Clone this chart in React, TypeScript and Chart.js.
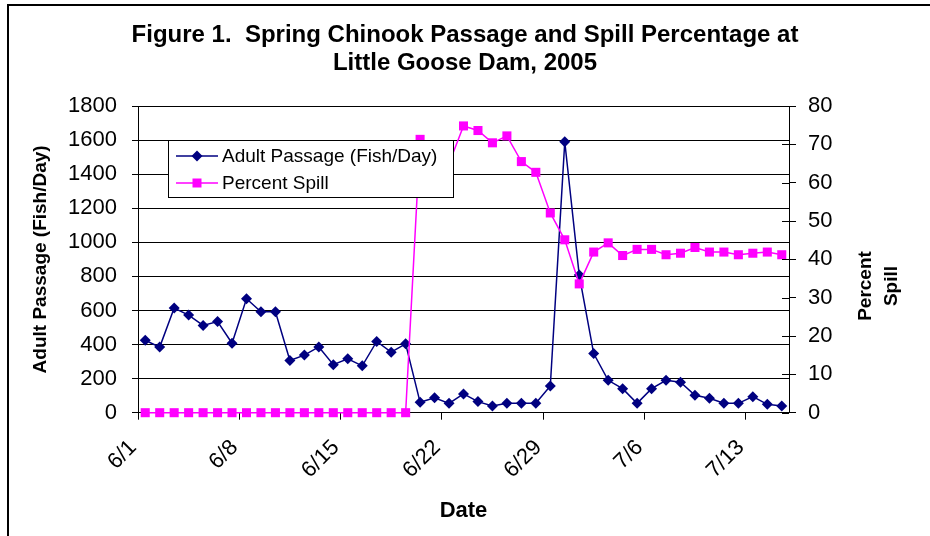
import React, { useEffect, useRef } from 'react';
import { Chart, registerables } from 'chart.js';

Chart.register(...registerables);

const dates = [
  '6/1', '6/2', '6/3', '6/4', '6/5', '6/6', '6/7', '6/8', '6/9', '6/10',
  '6/11', '6/12', '6/13', '6/14', '6/15', '6/16', '6/17', '6/18', '6/19', '6/20',
  '6/21', '6/22', '6/23', '6/24', '6/25', '6/26', '6/27', '6/28', '6/29', '6/30',
  '7/1', '7/2', '7/3', '7/4', '7/5', '7/6', '7/7', '7/8', '7/9', '7/10',
  '7/11', '7/12', '7/13', '7/14', '7/15',
];

const adultPassage = [
  425, 385, 614, 573, 512, 535, 408, 669, 592, 592,
  306, 338, 386, 282, 316, 275, 418, 355, 404, 61,
  88, 55, 110, 65, 39, 55, 55, 55, 157, 1590,
  808, 347, 190, 141, 55, 141, 190, 179, 102, 85,
  55, 55, 94, 49, 39,
];

const percentSpill = [
  0, 0, 0, 0, 0, 0, 0, 0, 0, 0,
  0, 0, 0, 0, 0, 0, 0, 0, 0, 71.3,
  67, 65, 74.8, 73.6, 70.4, 72.2, 65.5, 62.7, 52.1, 45.1,
  33.6, 41.9, 44.3, 41.0, 42.6, 42.6, 41.2, 41.6, 43.1, 41.9,
  41.9, 41.2, 41.6, 41.9, 41.2,
];

const titleLines = ['Figure 1.  Spring Chinook Passage and Spill Percentage at', 'Little Goose Dam, 2005'];
const seriesNames = ['Adult Passage (Fish/Day)', 'Percent Spill'];
const rightTitle = ['Percent', 'Spill'];

const FONT = "'Liberation Sans', Arial, Helvetica, sans-serif";
const NAVY = '#000080';
const MAGENTA = '#FF00FF';

function drawMarker(ctx: CanvasRenderingContext2D, kind: string, x: number, y: number, color: string) {
  ctx.fillStyle = color;
  ctx.beginPath();
  if (kind === 'diamond') {
    ctx.moveTo(x, y - 5.5);
    ctx.lineTo(x + 5.5, y);
    ctx.lineTo(x, y + 5.5);
    ctx.lineTo(x - 5.5, y);
    ctx.closePath();
  } else {
    ctx.rect(x - 4.5, y - 4.5, 9, 9);
  }
  ctx.fill();
}

export default function App() {
  const ref = useRef<HTMLCanvasElement>(null);

  useEffect(() => {
    const canvas = ref.current!;

    const extras = {
      id: 'extras',
      afterDatasetsDraw(chart: any) {
        const ctx: CanvasRenderingContext2D = chart.ctx;
        const bx = 168, by = 140, bw = 285, bh = 57;
        ctx.save();
        ctx.fillStyle = '#fff';
        ctx.fillRect(bx, by, bw, bh);
        ctx.strokeStyle = '#000';
        ctx.lineWidth = 1;
        ctx.strokeRect(bx + 0.5, by + 0.5, bw, bh);
        const entries = [
          { label: seriesNames[0], color: NAVY, kind: 'diamond' },
          { label: seriesNames[1], color: MAGENTA, kind: 'square' },
        ];
        entries.forEach((e, i) => {
          const y = by + 16 + i * 27;
          ctx.strokeStyle = e.color;
          ctx.lineWidth = 1.5;
          ctx.beginPath();
          ctx.moveTo(bx + 8, y);
          ctx.lineTo(bx + 50, y);
          ctx.stroke();
          drawMarker(ctx, e.kind, bx + 29, y, e.color);
          ctx.fillStyle = '#000';
          ctx.font = `19px ${FONT}`;
          ctx.textAlign = 'left';
          ctx.textBaseline = 'middle';
          ctx.fillText(e.label, bx + 54, y + 1);
        });
        ctx.restore();
      },
      afterDraw(chart: any) {
        const ctx: CanvasRenderingContext2D = chart.ctx;
        const y1 = chart.scales.y1;
        ctx.save();
        ctx.strokeStyle = '#000';
        ctx.lineWidth = 1;
        y1.ticks.forEach((t: any) => {
          const py = Math.round(y1.getPixelForValue(t.value)) + 0.5;
          ctx.beginPath();
          ctx.moveTo(y1.left - 7, py);
          ctx.lineTo(y1.left, py);
          ctx.stroke();
        });
        ctx.fillStyle = '#000';
        ctx.font = `bold 19px ${FONT}`;
        ctx.textAlign = 'center';
        ctx.textBaseline = 'middle';
        rightTitle.forEach((s, i) => {
          ctx.save();
          ctx.translate(866 + i * 26, 286);
          ctx.rotate(-Math.PI / 2);
          ctx.fillText(s, 0, 0);
          ctx.restore();
        });
        ctx.fillStyle = '#000';
        ctx.fillRect(7, 4, 2, 540);
        ctx.fillRect(7, 4, 930, 2);
        ctx.restore();
      },
    };

    const chart = new Chart(canvas, {
      type: 'line',
      data: {
        labels: dates,
        datasets: [
          {
            label: seriesNames[0],
            data: adultPassage,
            yAxisID: 'y',
            borderColor: NAVY,
            backgroundColor: NAVY,
            borderWidth: 1.5,
            pointStyle: 'rectRot',
            pointRadius: 5.5,
            pointBorderWidth: 0,
            pointBackgroundColor: NAVY,
            tension: 0,
            clip: false,
            order: 1,
          },
          {
            label: seriesNames[1],
            data: percentSpill,
            yAxisID: 'y1',
            borderColor: MAGENTA,
            backgroundColor: MAGENTA,
            borderWidth: 1.5,
            pointStyle: 'rect',
            pointRadius: 6.4,
            pointBorderWidth: 0,
            pointBackgroundColor: MAGENTA,
            tension: 0,
            clip: false,
            order: 0,
          },
        ],
      },
      options: {
        responsive: false,
        animation: false,
        events: [],
        layout: { padding: 0 },
        plugins: {
          legend: { display: false },
          tooltip: { enabled: false },
          title: {
            display: true,
            text: titleLines,
            color: '#000',
            font: { family: FONT, size: 24, weight: 'bold', lineHeight: '28px' },
            padding: { top: 21, bottom: 29 },
          },
        },
        scales: {
          x: {
            type: 'category',
            offset: true,
            grid: {
              offset: true,
              drawOnChartArea: false,
              drawTicks: true,
              tickLength: 7,
              lineWidth: 1,
              color: (c: any) => (c.index % 7 === 0 ? '#000' : 'rgba(0,0,0,0)'),
            },
            border: { display: true, color: '#000', width: 1 },
            ticks: {
              autoSkip: false,
              maxRotation: 45,
              minRotation: 45,
              padding: 15,
              labelOffset: -12,
              color: '#000',
              font: { family: FONT, size: 22 },
              callback: (_v: any, i: number) => (i % 7 === 0 ? dates[i] : ''),
            },
            title: {
              display: true,
              text: 'Date',
              color: '#000',
              font: { family: FONT, size: 22, weight: 'bold' },
              padding: { top: 0, bottom: 12 },
            },
            afterFit: (s: any) => { s.height = 123.3; },
          },
          y: {
            position: 'left',
            min: 0,
            max: 1800,
            ticks: {
              stepSize: 200,
              color: '#000',
              padding: 15,
              font: { family: FONT, size: 22 },
              callback: (v: any) => String(v),
            },
            grid: { color: '#000', lineWidth: 1, tickLength: 6 },
            border: { color: '#000', width: 1 },
            title: {
              display: true,
              text: 'Adult Passage (Fish/Day)',
              color: '#000',
              font: { family: FONT, size: 19, weight: 'bold' },
              padding: { top: 29, bottom: 0 },
            },
            afterFit: (s: any) => { s.width = 138; },
          },
          y1: {
            position: 'right',
            min: 0,
            max: 80,
            ticks: {
              stepSize: 10,
              color: '#000',
              padding: 12,
              font: { family: FONT, size: 22 },
              callback: (v: any) => String(v),
            },
            grid: { drawOnChartArea: false, color: '#000', lineWidth: 1, tickLength: 7 },
            border: { color: '#000', width: 1 },
            afterFit: (s: any) => { s.width = 141; },
          },
        },
      },
      plugins: [extras],
    } as any);

    return () => chart.destroy();
  }, []);

  return (
    <div style={{ position: 'absolute', left: 0, top: 0, width: 930, height: 536, background: '#fff' }}>
      <canvas ref={ref} width={930} height={536} style={{ display: 'block' }} />
    </div>
  );
}
